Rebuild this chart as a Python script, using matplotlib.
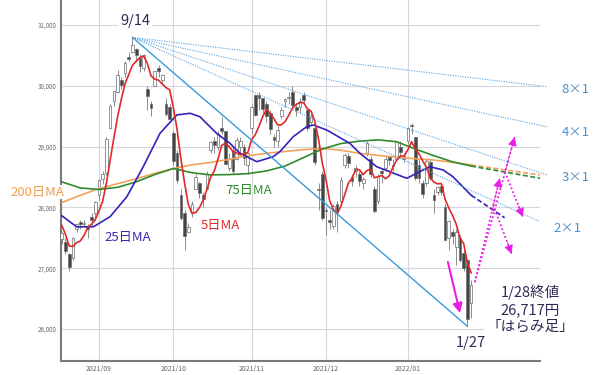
import numpy as np
import pandas as pd
import matplotlib
matplotlib.use('Agg')
import matplotlib.pyplot as plt

plt.rcParams['font.family'] = ['Noto Sans CJK JP', 'DejaVu Sans']

# 営業日 2021/08/18 - 2022/01/28
jp_holidays = ['2021-09-20', '2021-09-23', '2021-11-03', '2021-11-23',
               '2021-12-31', '2022-01-03', '2022-01-10']
dates = pd.bdate_range('2021-08-18', '2022-01-28', freq='C', holidays=jp_holidays)

# 日経平均 四本値 (チャートから読み取り)
opens = [27480, 27430, 27240, 27170, 27640, 27760, 27720, 27700, 27850, 27900,
         28200, 28470, 28560, 29300, 29750, 29900, 30100, 30210, 30470, 30550,
         30610, 30450, 30300, 29950, 29700, 30000, 30300, 30100, 29700, 29650,
         29230, 28900, 28200, 27900, 27600, 27900, 28300, 28400, 28200, 28300,
         28950, 29100, 29000, 29300, 29250, 28650, 28950, 28800, 29000, 29000,
         28700, 29300, 29850, 29850, 29800, 29700, 29550, 29150, 29100, 29500,
         29750, 29800, 29900, 29650, 29650, 29850, 29600, 29400, 29300, 28300,
         28550, 27950, 27800, 27700, 28050, 28100, 28700, 28850, 28500, 28600,
         28550, 28400, 28900, 28800, 28300, 28100, 28600, 28650, 28850, 28700,
         28800, 29000, 28850, 29100, 29350, 29150, 28700, 28400, 28400, 28750,
         28200, 28250, 28350, 28000, 27500, 27600, 27350, 27500, 27250, 27130,
         26430]
highs = [27600, 27490, 27250, 27520, 27750, 27800, 27800, 27720, 27900, 28100,
         28470, 28600, 29150, 29700, 29920, 30260, 30150, 30400, 30560, 30796,
         30620, 30520, 30530, 30000, 29750, 30250, 30350, 30200, 29800, 29700,
         29250, 28950, 28300, 27950, 27750, 28100, 28550, 28420, 28250, 28600,
         29100, 29150, 29250, 29490, 29250, 28900, 29000, 29150, 29150, 29050,
         28900, 29700, 29850, 29900, 29800, 29750, 29600, 29200, 29350, 29650,
         29800, 29900, 30000, 29700, 29800, 29900, 29650, 29550, 29300, 28400,
         28600, 28000, 27950, 28050, 28100, 28500, 28900, 28900, 28550, 28700,
         28600, 28500, 29100, 28850, 28350, 28550, 28650, 28850, 28850, 28800,
         29100, 29100, 28900, 29323, 29388, 29150, 28800, 28450, 28800, 28800,
         28300, 28350, 28400, 28050, 27800, 27650, 27650, 27550, 27300, 27150,
         26800]
lows = [27390, 27240, 26954, 27130, 27600, 27650, 27680, 27500, 27700, 27800,
        28130, 28390, 28530, 29290, 29660, 29880, 29950, 30150, 30400, 30540,
        30400, 30220, 30250, 29600, 29500, 29990, 30150, 30050, 29500, 29450,
        28700, 28400, 27800, 27300, 27600, 27850, 28300, 28150, 28000, 28300,
        28900, 28900, 28950, 29200, 28700, 28600, 28550, 28780, 28900, 28700,
        28550, 29200, 29500, 29600, 29550, 29400, 29200, 29000, 29000, 29450,
        29650, 29700, 29650, 29500, 29550, 29700, 29250, 29350, 28700, 27950,
        27800, 27550, 27650, 27650, 27600, 28050, 28650, 28650, 28350, 28500,
        28350, 28300, 28850, 28500, 27900, 28050, 28400, 28600, 28700, 28600,
        28780, 28850, 28750, 29050, 29200, 28450, 28400, 28150, 28350, 28450,
        27900, 28200, 28200, 27460, 27300, 27400, 27050, 27100, 26950, 26044,
        26180]
closes = [27585, 27281, 27013, 27494, 27732, 27724, 27742, 27641, 27789, 28089,
          28451, 28543, 29128, 29660, 29916, 30181, 30008, 30381, 30447, 30670,
          30511, 30323, 30500, 29839, 29639, 30248, 30240, 30183, 29544, 29452,
          28771, 28444, 27822, 27528, 27678, 28048, 28498, 28230, 28140, 28550,
          29068, 29025, 29215, 29255, 28708, 28804, 28600, 29106, 29098, 28820,
          28892, 29647, 29520, 29794, 29611, 29507, 29285, 29106, 29277, 29609,
          29776, 29808, 29688, 29598, 29745, 29774, 29302, 29499, 28751, 28283,
          27821, 27935, 27753, 28029, 27927, 28455, 28860, 28725, 28437, 28640,
          28432, 28459, 29066, 28545, 27937, 28517, 28562, 28798, 28782, 28676,
          29069, 28906, 28791, 29301, 29332, 28487, 28478, 28222, 28765, 28489,
          28124, 28333, 28257, 27467, 27772, 27522, 27588, 27131, 27011, 26170,
          26717]
pre_closes = [28015, 27977, 27523, 27424]  # 8/12-8/17 (5日MA計算用)

# 25日MA (チャートから読み取り)
ma25_idx = [0, 4.0, 8.5, 13.0, 17.5, 21.9, 26.4, 30.9, 34.5, 37.1, 41.6, 45.2, 47.9,
            52.4, 56.8, 58.6, 62.2, 65.8, 67.6, 71.2, 77.4, 80.1, 84.6, 92.7, 98.9,
            102.5, 105.1, 110]
ma25 = [27864, 27681, 27681, 27848, 28176, 28670, 29219, 29520, 29548, 29492, 29219,
        29054, 28890, 28752, 28834, 28916, 29163, 29327, 29355, 29273, 29054, 28890,
        28670, 28479, 28670, 28615, 28505, 28200]

# 75日MA・200日MA (5営業日ごと)
ma_idx = list(range(0, 111, 5))
ma75 = [28420, 28320, 28295, 28330, 28420, 28540, 28640, 28570, 28535, 28540, 28555, 28600,
        28680, 28820, 28960, 29050, 29090, 29110, 29080, 28960, 28850, 28750, 28680]
ma200 = [28080, 28200, 28310, 28390, 28470, 28560, 28640, 28700, 28740, 28790, 28850, 28890,
         28920, 28950, 28970, 28940, 28890, 28855, 28825, 28800, 28780, 28740, 28700]

# 移動平均の先行き (破線)
proj_idx = [110, 128.5]
ma75_proj = [28680, 28479]
ma200_proj = [28700, 28533]
ma25_proj_idx = [110, 119]
ma25_proj = [28200, 27830]

# ギャン・ファン
fan_labels = ['8×1', '4×1', '3×1', '2×1']
fan_end_idx = [130.3, 130.3, 130.4, 128.5]
fan_end_val = [29985, 29327, 28533, 27765]

# シナリオ矢印
drop_start = (103.75, 27102)
drop_end = (107.0, 26263)
up_start = (111, 26770)
up_tips = [(121.7, 29158), (117.7, 28479)]
down_lines = [((119.1, 28582), (123.9, 27842)), ((115.9, 28039), (120.9, 27234))]

x = np.arange(len(dates))
o = np.array(opens)
h = np.array(highs)
l = np.array(lows)
c = np.array(closes)
ma5 = pd.Series(pre_closes + closes).rolling(5).mean().iloc[4:].values

fig = plt.figure(figsize=(6, 3.75), dpi=100)
ax = fig.add_axes([61 / 600, 1 - 361 / 375, 479 / 600, 361 / 375])

# ローソク足
up = c >= o
ax.vlines(x, l, h, color='#7a7a7a', lw=0.6, zorder=2)
ax.bar(x, np.maximum(np.abs(c - o), 12), bottom=np.minimum(o, c), width=0.72,
       color=np.where(up, 'white', '#444444'), edgecolor='#6a6a6a', linewidth=0.5, zorder=3)

# 移動平均線
ax.plot(ma_idx, ma200, color='#f3a25c', lw=1.2, zorder=4)
ax.plot(ma_idx, ma75, color='#2e8b2e', lw=1.2, zorder=4)
ax.plot(ma25_idx, ma25, color='#3322bb', lw=1.2, zorder=4)
ax.plot(x, ma5, color='#e02a2a', lw=1.2, zorder=5)
ax.plot(proj_idx, ma200_proj, color='#f3a25c', lw=1.2, ls='--', dashes=(3, 1.5), zorder=4)
ax.plot(proj_idx, ma75_proj, color='#2e8b2e', lw=1.2, ls='--', dashes=(3, 1.5), zorder=4)
ax.plot(ma25_proj_idx, ma25_proj, color='#3322bb', lw=1.2, ls='--', dashes=(3, 1.5), zorder=4)

# ギャン・ファン
apex = (19, highs[19])
ax.plot([apex[0], 109], [apex[1], lows[109]], color='#3a9ad9', lw=1.0, zorder=6)
for ex, ev in zip(fan_end_idx, fan_end_val):
    ax.plot([apex[0], ex], [apex[1], ev], color='#5aa2e0', lw=0.8, ls=(0, (1, 1.2)),
            zorder=6, clip_on=False)

fan_pos = [(138.1, 29931), (138.1, 29224), (138.1, 28500), (136.0, 27661)]
for lab, (tx, ty) in zip(fan_labels, fan_pos):
    ax.text(tx, ty, lab, color='#4a90d0', fontsize=9.5, ha='center', va='center')

# 矢印
mag = '#e81ee8'
ax.annotate('', xy=drop_end, xytext=drop_start,
            arrowprops=dict(arrowstyle='-|>', color=mag, lw=1.5, mutation_scale=14,
                            shrinkA=0, shrinkB=0), zorder=8)


def dotted_arrow(p0, p1):
    ax.plot([p0[0], p1[0]], [p0[1], p1[1]], color=mag, lw=1.3, ls=(0, (1, 1.3)), zorder=8)
    back = (p1[0] - 0.25 * (p1[0] - p0[0]), p1[1] - 0.25 * (p1[1] - p0[1]))
    ax.annotate('', xy=p1, xytext=back,
                arrowprops=dict(arrowstyle='-|>', color=mag, lw=0.5, mutation_scale=14,
                                shrinkA=0, shrinkB=0), zorder=8)


for tip in up_tips:
    dotted_arrow(up_start, tip)
for p0, p1 in down_lines:
    dotted_arrow(p0, p1)

# ラベル
ax.text(-6.6, 28253, '200日MA', color='#f0a050', fontsize=9.5, ha='center', va='center',
        zorder=10, bbox=dict(facecolor='white', edgecolor='none', pad=0.5))
ax.text(17.8, 27513, '25日MA', color='#3a2ab0', fontsize=9.5, ha='center', va='center')
ax.text(42.5, 27710, '5日MA', color='#e02a2a', fontsize=9.5, ha='center', va='center')
ax.text(50.3, 28270, '75日MA', color='#2e8b2e', fontsize=9.5, ha='center', va='center')

navy = '#2c2c55'
ax.text(19.7, 31066, '9/14', color=navy, fontsize=10.5, ha='center', va='center',
        bbox=dict(facecolor='white', edgecolor='none', pad=1.5), zorder=7)
ax.text(109.9, 25770, '1/27', color=navy, fontsize=10.5, ha='center', va='center')
for txt, ty in zip(['1/28終値', '26,717円', '「はらみ足」'], [26609, 26313, 26033]):
    ax.text(125.8, ty, txt, color=navy, fontsize=10.5, ha='center', va='center', zorder=7,
            bbox=dict(facecolor='white', edgecolor='none', pad=1.5))

# 軸
month_starts = [i for i in range(1, len(dates)) if dates[i].month != dates[i - 1].month]
ax.set_xticks(month_starts)
ax.set_xticklabels([dates[i].strftime('%Y/%m') for i in month_starts])
yticks = [26000, 27000, 28000, 29000, 30000, 31000]
ax.set_yticks(yticks)
ax.set_yticklabels(['{:,}'.format(v) for v in yticks])
ax.set_xlim(-0.2, 128.5)
ax.set_ylim(25474, 31411)
ax.tick_params(length=0, labelcolor='#666666')
ax.tick_params(axis='x', labelsize=5, pad=3)
ax.tick_params(axis='y', labelsize=4.5, pad=3)
ax.grid(True, color='#d6d6de', lw=0.8, zorder=0)
ax.set_axisbelow(True)
for side in ['top', 'right']:
    ax.spines[side].set_visible(False)
for side in ['left', 'bottom']:
    ax.spines[side].set_color('#7a7a7a')
    ax.spines[side].set_linewidth(1.5)

fig.savefig('out.png', dpi=100)
